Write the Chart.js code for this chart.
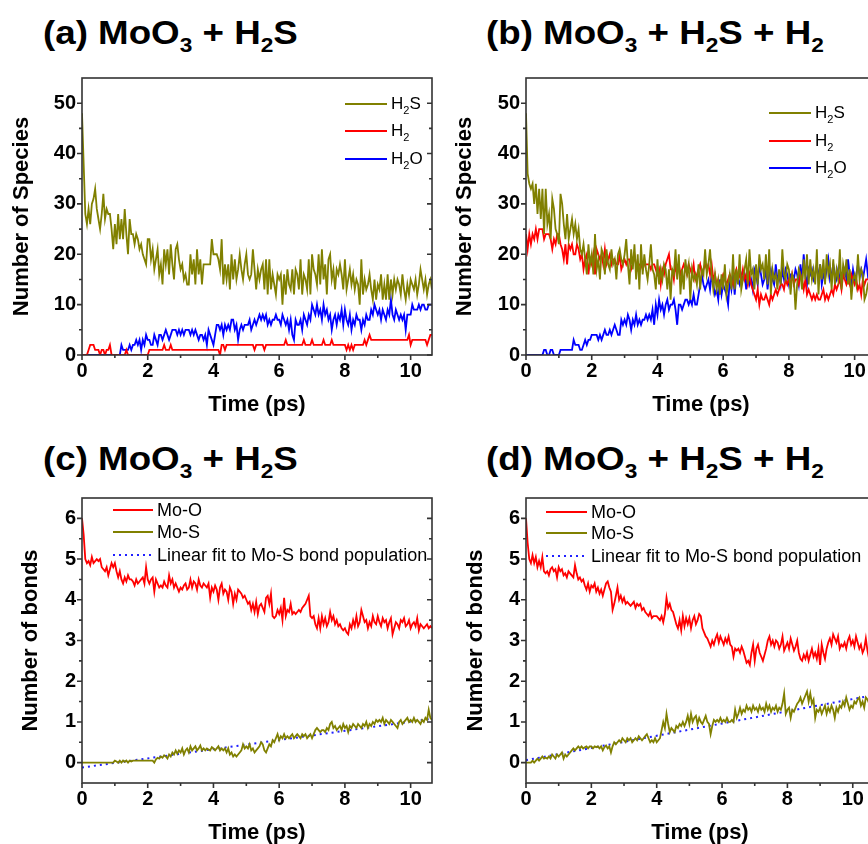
<!DOCTYPE html>
<html><head><meta charset="utf-8">
<script src="https://cdn.jsdelivr.net/npm/chart.js@4.4.1/dist/chart.umd.min.js"></script>
<style>
html,body{margin:0;padding:0;background:#fff;width:868px;height:844px;overflow:hidden;position:relative;font-family:Arial,"Liberation Sans",sans-serif;color:#000;}
.panel{position:absolute;}
.ptitle{position:absolute;font-weight:bold;font-size:34px;line-height:34px;white-space:nowrap;transform:scaleX(1.08);transform-origin:0 0;}
.ptitle .s{font-size:21px;position:relative;top:8px;}
.lrow{position:absolute;display:flex;align-items:center;height:18px;white-space:nowrap;}
.lrow .sw{display:inline-block;height:0;border-top:2px solid;margin-right:4px;}
.lrow .dot{display:inline-block;height:2px;margin-right:4px;background:repeating-linear-gradient(to right,#2020ff 0 2px,transparent 2px 6px);}
.lrow .tx{line-height:18px;}
.lrow .s{font-size:11px;position:relative;top:5px;}
</style></head><body>

<div class="ptitle" style="left:43px;top:15px">(a) MoO<span class="s">3</span> + H<span class="s">2</span>S</div>
<div class="ptitle" style="left:486px;top:15px">(b) MoO<span class="s">3</span> + H<span class="s">2</span>S + H<span class="s">2</span></div>
<div class="ptitle" style="left:43px;top:441px">(c) MoO<span class="s">3</span> + H<span class="s">2</span>S</div>
<div class="ptitle" style="left:486px;top:441px">(d) MoO<span class="s">3</span> + H<span class="s">2</span>S + H<span class="s">2</span></div>

<div class="panel" style="left:0;top:60px"><canvas id="ca" width="434" height="360"></canvas></div>
<div class="panel" style="left:434px;top:60px"><canvas id="cb" width="446" height="360"></canvas></div>
<div class="panel" style="left:0;top:480px"><canvas id="cc" width="434" height="370"></canvas></div>
<div class="panel" style="left:434px;top:480px"><canvas id="cd" width="446" height="370"></canvas></div>

<!-- legends -->
<div class="lrow" style="left:345px;top:95px;font-size:17px"><span class="sw" style="width:42px;border-color:#808000"></span><span class="tx">H<span class="s">2</span>S</span></div>
<div class="lrow" style="left:345px;top:122px;font-size:17px"><span class="sw" style="width:42px;border-color:#ff0000"></span><span class="tx">H<span class="s">2</span></span></div>
<div class="lrow" style="left:345px;top:150px;font-size:17px"><span class="sw" style="width:42px;border-color:#0000ff"></span><span class="tx">H<span class="s">2</span>O</span></div>

<div class="lrow" style="left:769px;top:104px;font-size:17px"><span class="sw" style="width:42px;border-color:#808000"></span><span class="tx">H<span class="s">2</span>S</span></div>
<div class="lrow" style="left:769px;top:132px;font-size:17px"><span class="sw" style="width:42px;border-color:#ff0000"></span><span class="tx">H<span class="s">2</span></span></div>
<div class="lrow" style="left:769px;top:159px;font-size:17px"><span class="sw" style="width:42px;border-color:#0000ff"></span><span class="tx">H<span class="s">2</span>O</span></div>

<div class="lrow" style="left:113px;top:501px;font-size:18px"><span class="sw" style="width:40px;border-color:#ff0000"></span><span class="tx">Mo-O</span></div>
<div class="lrow" style="left:113px;top:523px;font-size:18px"><span class="sw" style="width:40px;border-color:#808000"></span><span class="tx">Mo-S</span></div>
<div class="lrow" style="left:113px;top:546px;font-size:18px"><span class="dot" style="width:40px"></span><span class="tx">Linear fit to Mo-S bond population</span></div>

<div class="lrow" style="left:546px;top:503px;font-size:18px"><span class="sw" style="width:41px;border-color:#ff0000"></span><span class="tx">Mo-O</span></div>
<div class="lrow" style="left:546px;top:524px;font-size:18px"><span class="sw" style="width:41px;border-color:#808000"></span><span class="tx">Mo-S</span></div>
<div class="lrow" style="left:546px;top:547px;font-size:18px"><span class="dot" style="width:41px"></span><span class="tx">Linear fit to Mo-S bond population</span></div>

<script>
// ---------------- data ----------------
const TIME_STEP_PS = 0.05;        // sampling interval of the trajectories
const N_POINTS = 214;             // 0 ... 10.65 ps
const TIME_PS = Array.from({length: N_POINTS}, (_, i) => +(i * TIME_STEP_PS).toFixed(2));

const X_TICKS = [0, 2, 4, 6, 8, 10];
const X_MINOR = [1, 3, 5, 7, 9];
const Y_TICKS_SPECIES = [0, 10, 20, 30, 40, 50];
const Y_MINOR_SPECIES = [5, 15, 25, 35, 45];
const Y_TICKS_BONDS = [0, 1, 2, 3, 4, 5, 6];
const Y_MINOR_BONDS = [0.5, 1.5, 2.5, 3.5, 4.5, 5.5];

// (a) MoO3 + H2S : number of species
const A_H2S = [
48,38,28,26,29,26,30,31,33,29,
27,25,28,32,27,29,28,28,25,21,
26,22,28,23,27,23,29,24,20,27,
24,24,22,24,23,21,22,20,19,18,
23,23,19,21,17,19,21,16,18,14,
21,18,21,16,22,18,15,21,22,19,
17,18,15,16,14,14,20,16,19,14,
21,16,19,14,18,18,18,18,18,23,
20,20,20,19,17,23,14,18,15,18,
13,20,15,19,15,17,20,17,15,18,
20,16,15,16,21,17,13,17,15,17,
18,13,19,12,19,13,16,14,12,16,
15,16,10,16,12,17,14,13,17,12,
17,16,13,19,12,16,15,13,19,12,
20,17,16,14,20,14,21,15,18,12,
19,20,15,17,13,17,16,18,16,13,
19,13,15,17,14,16,13,15,14,10,
19,12,15,13,14,16,13,11,15,11,
14,13,16,11,14,11,16,11,15,12,
15,13,15,14,12,16,13,11,14,12,
15,14,13,15,12,14,17,15,13,15,
12,14,15,13];
const A_H2 = [
0,0,0,0,1,2,2,2,1,1,
1,0,1,1,0,1,1,2,0,0,
0,0,0,0,0,0,0,1,0,0,
0,0,0,0,0,0,0,0,0,0,
0,1,1,1,1,1,1,1,1,1,
2,1,1,1,2,1,1,1,1,1,
1,1,1,1,1,1,1,1,1,1,
1,1,1,1,1,1,1,1,1,1,
1,1,1,1,0,2,2,1,2,2,
2,2,2,2,2,2,2,2,2,2,
2,2,2,2,2,1,2,2,2,2,
2,1,2,2,2,2,2,2,2,2,
2,2,2,2,3,2,2,2,2,2,
2,2,2,2,2,3,2,2,2,2,
3,2,2,2,2,2,2,3,2,2,
2,2,3,2,2,2,2,2,2,2,
2,1,2,1,2,1,2,2,2,2,
2,2,3,2,3,4,3,3,3,3,
3,3,3,3,3,3,3,3,3,3,
3,3,3,3,3,3,3,3,3,4,
2,3,3,3,3,3,3,3,3,3,
2,3,4,4];
const A_H2O = [
0,0,0,0,0,0,0,0,0,0,
0,0,0,0,0,0,0,0,0,0,
0,0,0,0,2,1,1,1,1,2,
1,2,2,3,2,3,1,3,2,4,
3,3,2,2,4,3,2,4,4,3,
4,5,4,3,4,5,5,5,4,5,
4,5,4,5,5,5,4,5,4,5,
4,3,4,4,3,4,2,5,4,3,
2,4,6,6,5,6,4,6,5,6,
5,7,7,5,6,3,5,6,5,6,
6,6,7,5,6,7,6,7,8,7,
8,7,8,6,7,6,7,7,8,7,
7,6,8,7,6,7,5,7,4,3,
7,6,6,7,5,8,7,6,8,7,
10,9,8,10,8,9,7,10,8,9,
7,8,5,7,8,6,8,7,9,6,
9,7,6,8,5,7,6,8,7,7,
5,7,6,8,7,7,9,8,10,9,
8,9,7,9,8,7,9,8,11,8,
7,9,8,7,8,7,8,5,8,8,
8,10,9,9,9,10,9,10,10,9,
9,10,10,10];

// (b) MoO3 + H2S + H2 : number of species
const B_H2S = [
48,36,34,33,34,30,34,28,33,27,
33,24,33,26,28,23,31,29,25,24,
22,32,30,26,23,28,23,25,27,24,
26,23,25,21,20,22,19,16,22,18,
20,16,24,17,19,15,21,20,16,21,
18,17,21,18,19,15,20,21,19,18,
20,23,18,14,21,17,22,15,20,13,
22,16,20,17,15,18,22,17,16,13,
19,14,17,15,18,17,13,17,11,17,
16,21,15,20,12,17,13,19,16,18,
11,17,15,16,14,18,13,17,16,21,
16,18,21,16,13,16,13,15,12,16,
13,18,12,14,16,13,20,13,17,14,
20,13,15,17,19,14,21,16,17,13,
18,14,20,17,18,15,20,14,21,12,
17,15,16,13,17,14,21,16,15,18,
17,12,16,15,9,14,17,16,13,19,
15,20,14,19,15,17,14,21,12,18,
15,19,14,20,16,18,13,19,14,17,
15,21,13,18,16,19,14,17,11,15,
16,14,20,15,17,16,11,12,14,15,
13,15,17,14];
const B_H2 = [
24,21,24,22,24,23,25,23,25,25,
25,23,24,24,24,23,21,23,22,24,
24,22,21,19,22,18,22,21,22,20,
20,22,21,19,20,17,19,20,16,19,
18,20,16,21,20,19,20,18,21,18,
19,20,18,19,19,18,18,20,17,18,
19,18,19,19,17,18,20,18,17,18,
18,17,18,18,18,18,17,18,18,17,
16,17,14,17,16,18,19,20,17,17,
15,18,16,18,16,17,18,17,16,18,
17,16,18,15,16,17,18,16,17,18,
17,18,16,18,15,16,14,15,13,15,
16,15,14,15,16,15,14,16,17,15,
16,15,17,15,16,14,16,14,13,12,
11,13,10,12,11,11,12,11,10,12,
11,12,13,12,13,14,14,13,15,14,
15,14,16,14,15,15,14,16,15,13,
15,12,13,12,11,12,11,12,11,11,
12,13,11,12,11,12,13,12,14,13,
14,15,13,16,15,14,15,14,16,15,
14,15,13,14,12,15,14,15,15,15,
15,15,15,15];
const B_H2O = [
0,0,0,0,0,0,0,0,0,0,
0,1,1,0,0,1,1,0,0,0,
0,1,1,1,1,1,1,1,1,3,
2,2,2,1,1,2,3,2,3,3,
4,4,4,4,3,4,3,4,5,4,
4,5,4,5,6,5,4,4,7,6,
7,6,8,7,5,7,6,8,6,7,
6,7,7,8,7,8,7,9,6,10,
8,11,9,10,8,10,11,9,10,10,
11,9,6,10,10,9,10,11,11,10,
11,10,12,10,10,12,14,16,14,13,
14,15,13,16,14,12,13,11,15,12,
14,13,12,10,15,13,16,12,16,15,
14,16,15,16,13,17,14,15,13,17,
16,14,18,16,14,15,17,13,16,17,
15,14,18,15,16,14,17,15,17,16,
14,16,16,15,17,16,14,18,15,20,
16,14,17,16,17,15,16,18,15,18,
14,16,15,17,19,15,16,18,16,15,
17,15,14,16,17,15,19,16,14,17,
15,16,18,16,17,15,17,19,16,18,
17,16,18,19];

// (c) MoO3 + H2S : number of bonds
const C_MOO = [
6.0,5.6,5.0,4.9,4.95,4.85,5.05,4.9,4.95,5.0,
4.95,5.0,4.8,4.75,4.7,4.8,4.6,4.75,4.9,4.8,
4.9,4.7,4.55,4.7,4.5,4.4,4.55,4.45,4.6,4.5,
4.5,4.45,4.35,4.5,4.4,4.45,4.5,4.55,4.4,4.8,
4.5,4.4,4.5,4.55,4.2,4.5,4.4,4.3,4.35,4.3,
4.45,4.35,4.3,4.6,4.4,4.5,4.3,4.4,4.3,4.2,
4.3,4.25,4.35,4.4,4.25,4.3,4.5,4.3,4.45,4.4,
4.25,4.5,4.35,4.3,4.4,4.35,4.3,4.4,4.05,4.3,
4.2,4.35,4.25,4.0,4.3,4.4,4.15,4.25,4.2,4.0,
4.3,4.2,3.9,4.15,4.0,4.25,4.2,4.15,4.05,4.1,
4.0,3.9,3.95,3.75,3.9,3.7,3.95,3.65,3.85,3.9,
3.8,3.7,4.05,4.1,3.9,4.15,3.6,3.55,3.6,3.75,
3.65,3.8,3.5,4.05,3.6,3.75,3.7,3.9,3.65,3.7,
3.65,3.7,3.75,3.7,3.8,3.85,3.9,4.0,4.1,3.6,
3.55,3.6,3.4,3.3,3.55,3.3,3.6,3.4,3.55,3.35,
3.45,3.7,3.5,3.6,3.4,3.5,3.35,3.4,3.3,3.25,
3.3,3.2,3.15,3.4,3.3,3.5,3.35,3.6,3.35,3.45,
3.75,3.6,3.45,3.5,3.3,3.45,3.35,3.6,3.45,3.4,
3.6,3.45,3.35,3.55,3.45,3.5,3.3,3.45,3.55,3.15,
3.3,3.45,3.4,3.3,3.5,3.45,3.55,3.35,3.4,3.5,
3.3,3.4,3.45,3.35,3.55,3.25,3.4,3.35,3.3,3.35,
3.4,3.3,3.35,3.3];
const C_MOS = [
0,0,0,0,0,0,0,0,0,0,
0,0,0,0,0,0,0,0,0,0,
0.05,0.03,0.0,0.05,0.0,0.05,0.02,0.05,0.0,0.05,
0.03,0.05,0.05,0.05,0.05,0.05,0.05,0.05,0.05,0.05,
0.05,0.05,0.05,0.05,0.0,0.08,0.12,0.1,0.15,0.12,
0.18,0.15,0.1,0.2,0.15,0.25,0.2,0.3,0.22,0.3,
0.25,0.35,0.2,0.3,0.35,0.25,0.4,0.3,0.35,0.4,
0.3,0.35,0.42,0.3,0.35,0.3,0.35,0.32,0.3,0.38,
0.35,0.3,0.35,0.4,0.3,0.35,0.3,0.35,0.25,0.35,
0.2,0.25,0.15,0.2,0.15,0.2,0.25,0.3,0.45,0.35,
0.4,0.35,0.45,0.3,0.35,0.25,0.3,0.35,0.4,0.5,
0.45,0.3,0.25,0.35,0.45,0.4,0.55,0.5,0.6,0.7,
0.55,0.65,0.6,0.7,0.6,0.65,0.6,0.65,0.7,0.6,
0.65,0.7,0.65,0.6,0.7,0.65,0.7,0.6,0.65,0.7,
0.6,0.7,0.8,0.85,0.8,0.75,0.8,0.8,0.75,0.85,
0.8,0.95,1.0,0.85,0.9,0.8,0.85,0.9,0.8,0.95,
0.85,0.9,0.75,0.9,0.85,0.95,0.9,0.85,0.95,0.9,
0.85,0.95,0.9,1.0,0.85,0.95,0.9,1.0,0.95,1.05,
1.0,1.05,1.0,1.1,0.95,1.05,1.0,0.95,1.05,1.0,
0.95,0.9,0.85,1.0,1.05,0.95,1.0,1.05,1.1,1.0,
1.05,1.0,1.1,1.0,1.05,1.0,0.95,1.05,1.0,1.1,
1.05,1.3,1.1,1.05];
const C_FIT_T = [0, 10.65];
const C_FIT_V = [-0.12, 1.08];

// (d) MoO3 + H2S + H2 : number of bonds
const D_MOO = [
6.0,5.4,5.0,4.9,5.1,4.9,5.05,4.8,4.95,4.8,
5.05,4.7,4.65,4.7,4.6,4.75,4.8,4.7,4.75,4.55,
4.8,4.7,4.75,4.6,4.65,4.55,4.7,4.65,4.6,4.55,
4.85,4.65,4.5,4.55,4.45,4.5,4.35,4.25,4.4,4.2,
4.35,4.3,4.4,4.2,4.3,4.15,4.25,4.1,4.25,4.4,
4.45,4.3,4.2,3.75,3.9,4.1,4.3,4.0,4.1,3.95,
4.05,3.9,3.95,3.9,3.85,3.9,3.95,3.8,3.9,3.85,
3.9,3.75,3.8,3.7,3.65,3.6,3.7,3.55,3.6,3.6,
3.6,3.55,3.5,3.6,3.45,3.65,4.05,3.8,3.9,3.75,
3.7,3.55,3.4,3.3,3.5,3.25,3.6,3.35,3.55,3.4,
3.55,3.3,3.5,3.6,3.4,3.5,3.65,3.6,3.3,3.2,
3.1,3.05,2.95,2.85,3.0,2.9,3.05,3.15,2.95,3.1,
3.0,2.9,3.05,2.95,3.1,2.9,2.85,2.6,2.8,2.75,
2.8,2.7,2.85,2.75,2.6,2.45,2.5,2.4,2.7,2.9,
2.5,2.8,2.9,2.7,2.6,2.5,2.65,2.8,3.0,3.1,
2.9,3.0,2.85,3.0,2.95,2.8,2.9,3.1,2.75,2.85,
2.95,2.8,3.05,2.9,2.75,2.85,3.0,2.7,2.55,2.5,
2.65,2.55,2.7,2.5,2.65,2.8,2.6,2.7,2.55,2.8,
2.4,2.9,2.7,2.55,2.8,2.95,3.05,2.9,3.15,3.05,
2.95,3.1,2.8,2.9,2.85,2.95,2.8,3.0,3.1,2.9,
3.0,2.85,3.1,2.95,2.8,2.9,2.7,2.8,3.05,2.75,
2.55,2.6,2.5,2.6];
const D_MOS = [
0,0,0,0,0.05,0.0,0.05,0.1,0.05,0.1,
0.15,0.1,0.12,0.1,0.15,0.1,0.2,0.15,0.1,0.2,
0.15,0.2,0.25,0.1,0.2,0.15,0.2,0.25,0.3,0.35,
0.3,0.35,0.4,0.35,0.4,0.35,0.38,0.4,0.35,0.4,
0.4,0.35,0.4,0.38,0.4,0.35,0.4,0.3,0.38,0.42,
0.35,0.4,0.25,0.4,0.5,0.45,0.5,0.55,0.5,0.6,
0.55,0.5,0.6,0.55,0.6,0.5,0.55,0.6,0.55,0.65,
0.6,0.55,0.6,0.65,0.7,0.6,0.5,0.55,0.5,0.6,
0.5,0.55,0.6,0.8,1.0,0.85,1.2,0.95,0.75,0.85,
0.8,0.75,0.9,0.85,0.95,0.9,1.0,0.9,1.0,1.15,
0.95,1.2,1.0,1.1,1.15,0.95,1.1,1.0,0.95,1.05,
1.15,1.0,0.95,0.7,0.9,1.05,1.0,1.05,1.0,1.1,
1.0,1.05,1.0,1.1,1.0,1.0,1.05,1.0,1.3,1.1,
1.2,1.35,1.2,1.3,1.25,1.4,1.3,1.35,1.25,1.4,
1.3,1.35,1.25,1.4,1.3,1.35,1.25,1.45,1.3,1.4,
1.25,1.35,1.3,1.4,1.25,1.35,1.3,1.45,1.7,1.2,
1.3,1.35,1.1,1.3,1.25,1.35,1.45,1.5,1.6,1.45,
1.55,1.65,1.75,1.5,1.7,1.45,1.55,1.1,1.3,1.25,
1.35,1.2,1.3,1.4,1.2,1.35,1.25,1.4,1.3,1.1,
1.35,1.25,1.4,1.35,1.5,1.4,1.6,1.45,1.3,1.4,
1.35,1.5,1.45,1.55,1.6,1.4,1.5,1.35,1.6,1.55,
1.45,1.5,1.6,1.55];
const D_FIT_T = [0, 10.65];
const D_FIT_V = [0.06, 1.66];

const OLIVE = '#808000', RED = '#ff0000', BLUE = '#0000ff', FITBLUE = '#2020ff';

// ---------------- rendering ----------------
Chart.defaults.font.family = 'Arial, "Liberation Sans", sans-serif';
Chart.defaults.color = '#000';
Chart.defaults.animation = false;

const frameTicks = {
  id: 'frameTicks',
  afterDraw(chart, args, o) {
    const {ctx, chartArea: a} = chart;
    const xs = chart.scales.x, ys = chart.scales.y;
    ctx.save();
    ctx.strokeStyle = '#333';
    ctx.lineWidth = 1.6;
    ctx.beginPath();
    const seg = (x1, y1, x2, y2) => { ctx.moveTo(x1, y1); ctx.lineTo(x2, y2); };
    o.xMajor.forEach(v => { const p = xs.getPixelForValue(v); seg(p, a.bottom, p, a.bottom + 5); });
    o.xMinor.forEach(v => { const p = xs.getPixelForValue(v); seg(p, a.bottom, p, a.bottom + 3); });
    o.yMajor.forEach(v => { const p = ys.getPixelForValue(v); seg(a.left - 5, p, a.left, p); seg(a.right, p, a.right - 5, p); });
    o.yMinor.forEach(v => { const p = ys.getPixelForValue(v); seg(a.left - 3, p, a.left, p); seg(a.right, p, a.right - 3, p); });
    ctx.stroke();
    ctx.strokeRect(a.left, a.top, a.right - a.left, a.bottom - a.top);
    ctx.restore();
  }
};

const pts = (t, v) => t.map((x, i) => ({x, y: v[i]}));
const line = (data, color, extra) => Object.assign({
  data, borderColor: color, backgroundColor: color, borderWidth: 1.8,
  pointRadius: 0, tension: 0, fill: false
}, extra || {});

function makeChart(id, o) {
  new Chart(document.getElementById(id), {
    type: 'line',
    data: {datasets: o.datasets},
    plugins: [frameTicks],
    options: {
      responsive: false,
      animation: false,
      events: [],
      layout: {padding: {top: o.padTop, right: o.padRight, left: 0, bottom: 0}},
      plugins: {
        legend: {display: false},
        tooltip: {enabled: false},
        frameTicks: {xMajor: X_TICKS, xMinor: X_MINOR, yMajor: o.yTicks, yMinor: o.yMinor}
      },
      scales: {
        x: {
          type: 'linear', min: 0, max: 10.65,
          afterBuildTicks: s => { s.ticks = X_TICKS.map(v => ({value: v})); },
          afterFit: s => { s.height = o.xHeight; },
          grid: {display: false, drawTicks: false},
          border: {display: false},
          ticks: {font: {size: 20, weight: 'bold'}, padding: o.xTickPad, maxRotation: 0},
          title: {display: true, text: 'Time (ps)', font: {size: 22, weight: 'bold'}, padding: {top: 0, bottom: o.xTitlePad}}
        },
        y: {
          type: 'linear', min: o.yMin, max: o.yMax,
          afterBuildTicks: s => { s.ticks = o.yTicks.map(v => ({value: v})); },
          afterFit: s => { s.width = o.yWidth; },
          grid: {display: false, drawTicks: false},
          border: {display: false},
          ticks: {font: {size: 20, weight: 'bold'}, padding: 6},
          title: {display: true, text: o.yTitle, font: {size: 22, weight: 'bold'}, padding: {top: o.yTitlePad, bottom: 0}}
        }
      }
    }
  });
}

makeChart('ca', {
  datasets: [line(pts(TIME_PS, A_H2S), OLIVE), line(pts(TIME_PS, A_H2), RED), line(pts(TIME_PS, A_H2O), BLUE)],
  padTop: 10, padRight: 2, xHeight: 65, yWidth: 82, xTickPad: 4, xTitlePad: 2, yTitlePad: 9,
  yMin: 0, yMax: 55, yTicks: Y_TICKS_SPECIES, yMinor: Y_MINOR_SPECIES, yTitle: 'Number of Species'
});
makeChart('cb', {
  datasets: [line(pts(TIME_PS, B_H2S), OLIVE), line(pts(TIME_PS, B_H2), RED), line(pts(TIME_PS, B_H2O), BLUE)],
  padTop: 10, padRight: 4, xHeight: 65, yWidth: 92, xTickPad: 4, xTitlePad: 2, yTitlePad: 18,
  yMin: 0, yMax: 55, yTicks: Y_TICKS_SPECIES, yMinor: Y_MINOR_SPECIES, yTitle: 'Number of Species'
});
makeChart('cc', {
  datasets: [line(pts(TIME_PS, C_MOO), RED), line(pts(TIME_PS, C_MOS), OLIVE),
             line(pts(C_FIT_T, C_FIT_V), FITBLUE, {borderWidth: 2, borderDash: [2, 4]})],
  padTop: 17, padRight: 2, xHeight: 67, yWidth: 82, xTickPad: 4, xTitlePad: 4, yTitlePad: 18,
  yMin: -0.5, yMax: 6.5, yTicks: Y_TICKS_BONDS, yMinor: Y_MINOR_BONDS, yTitle: 'Number of bonds'
});
makeChart('cd', {
  datasets: [line(pts(TIME_PS, D_MOO), RED), line(pts(TIME_PS, D_MOS), OLIVE),
             line(pts(D_FIT_T, D_FIT_V), FITBLUE, {borderWidth: 2, borderDash: [2, 4]})],
  padTop: 17, padRight: 6, xHeight: 67, yWidth: 92, xTickPad: 4, xTitlePad: 4, yTitlePad: 29,
  yMin: -0.5, yMax: 6.5, yTicks: Y_TICKS_BONDS, yMinor: Y_MINOR_BONDS, yTitle: 'Number of bonds'
});
</script>
</body></html>
